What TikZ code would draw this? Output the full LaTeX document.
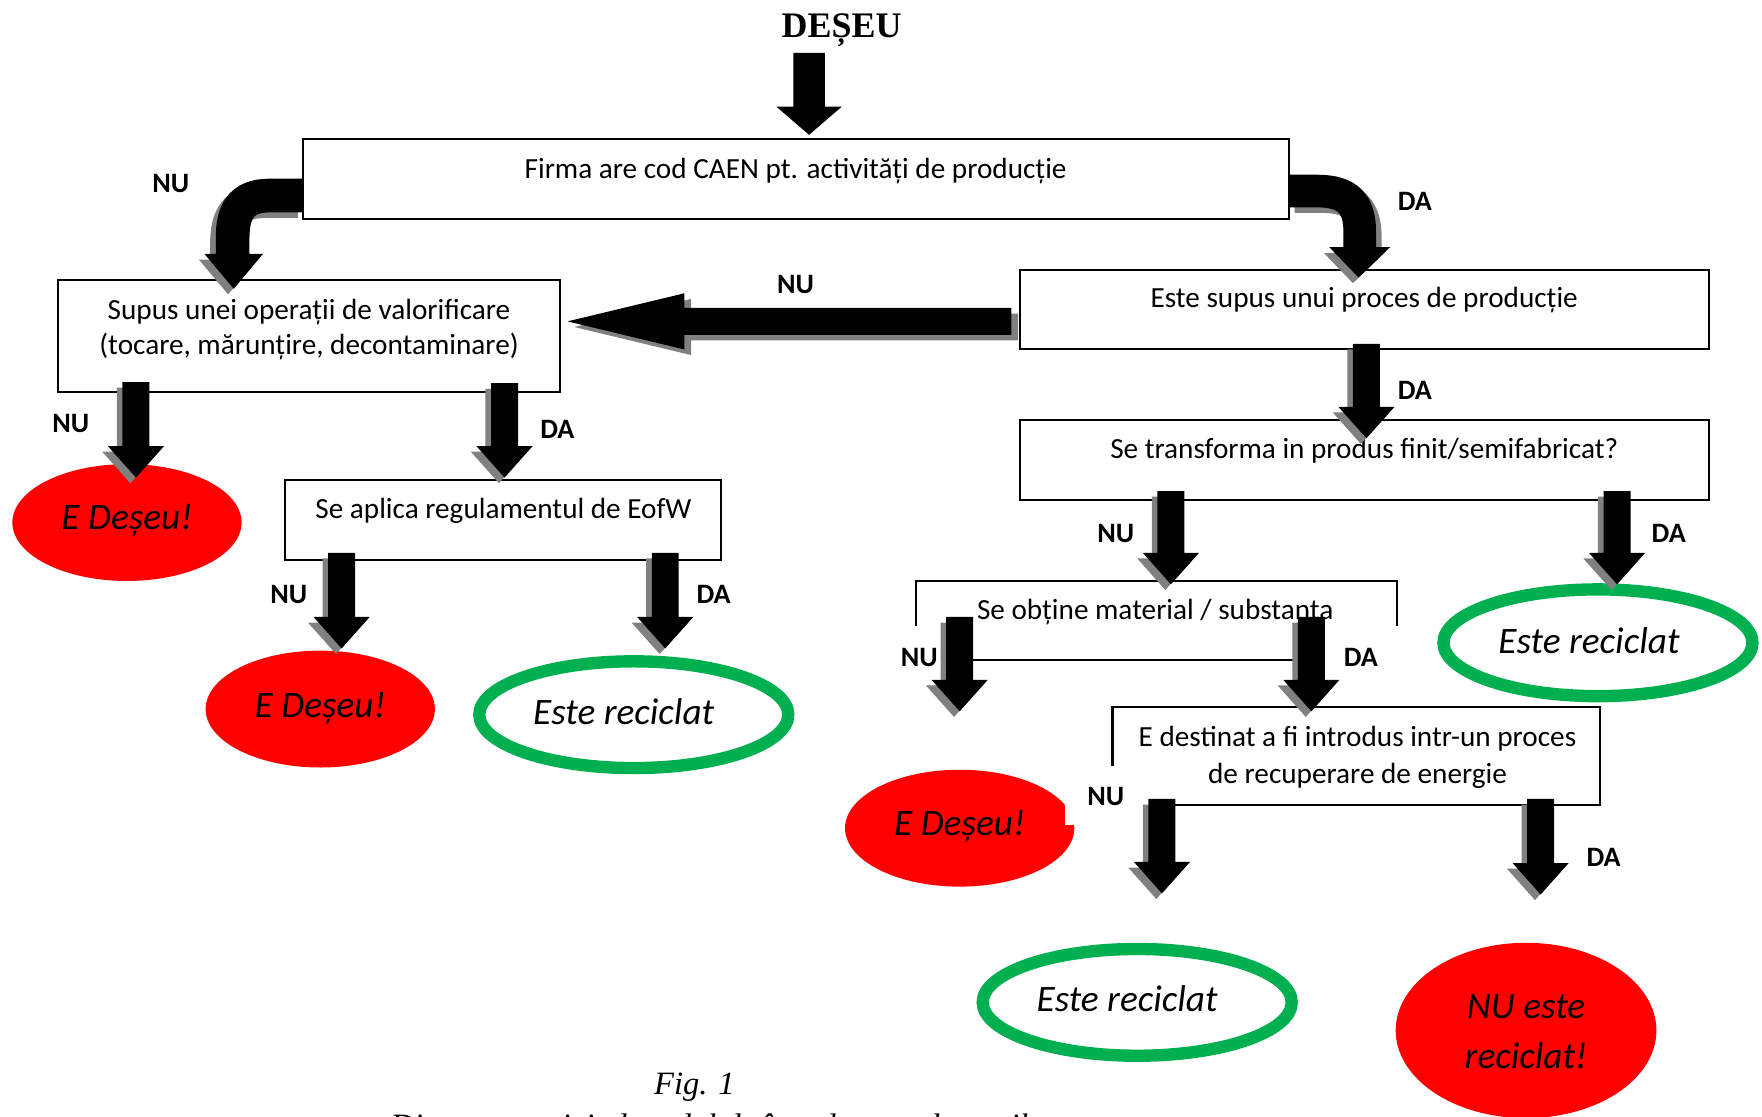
\documentclass[tikz,border=0pt]{standalone}
\usepackage{fontspec}
\setmainfont{Carlito}
\newfontfamily\serifs{Liberation Serif}
\usetikzlibrary{calc,shapes.geometric}
\definecolor{redfill}{HTML}{FF0000}
\definecolor{greenring}{HTML}{00B050}
\definecolor{shadowgray}{HTML}{808080}
% #1 start, #2 tip, #3 dx, #4 dy, #5 colour, #6 half shaft, #7 half head, #8 head length
\newcommand\downblk[8]{%
  \fill[#5] let \p1=(#1), \p2=(#2) in
    ({\x1-#6+(#3)},{\y1+(#4)}) -- ({\x1+#6+(#3)},{\y1+(#4)}) --
    ({\x1+#6+(#3)},{\y2+#8+(#4)}) -- ({\x1+#7+(#3)},{\y2+#8+(#4)}) --
    ({\x1+(#3)},{\y2+(#4)}) -- ({\x1-#7+(#3)},{\y2+#8+(#4)}) --
    ({\x1-#6+(#3)},{\y2+#8+(#4)}) -- cycle;}
\newcommand\darrow[2]{%
  \downblk{#1}{#2}{-2.5pt}{-2.5pt}{shadowgray}{6pt}{12.5pt}{14pt}%
  \downblk{#1}{#2}{0pt}{0pt}{black}{6pt}{12.5pt}{14pt}}
% horizontal arrow pointing left
\newcommand\leftblk[8]{%
  \fill[#5] let \p1=(#1), \p2=(#2) in
    ({\x1+(#3)},{\y1-#6+(#4)}) -- ({\x1+(#3)},{\y1+#6+(#4)}) --
    ({\x2+#8+(#3)},{\y1+#6+(#4)}) -- ({\x2+#8+(#3)},{\y1+#7+(#4)}) --
    ({\x2+(#3)},{\y1+(#4)}) -- ({\x2+#8+(#3)},{\y1-#7+(#4)}) --
    ({\x2+#8+(#3)},{\y1-#6+(#4)}) -- cycle;}
\tikzset{
  boxnode/.style={draw, line width=0.9pt, fill=white, inner sep=0pt},
  boxline/.style={line width=0.9pt},
  txt/.style={font=\fontsize{13pt}{15.5pt}\selectfont, align=center, inner sep=0pt},
  lab/.style={font=\bfseries\fontsize{12.5pt}{14pt}\selectfont, inner sep=0pt},
  etxt/.style={font=\itshape\fontsize{16.6pt}{22pt}\selectfont, align=center, inner sep=0pt},
  redell/.style={ellipse, fill=redfill, inner sep=0pt},
  greenell/.style={ellipse, draw=greenring, line width=5.5pt, fill=white, inner sep=0pt, minimum width=137.5pt, minimum height=47.5pt},
}
\begin{document}
\begin{tikzpicture}[x=0.5pt,y=-0.5pt]
\useasboundingbox (0,0) rectangle (1568,994);
\clip (0,0) rectangle (1568,994);
\fill[white] (0,0) rectangle (1568,994);

% title
\node[font=\serifs\bfseries\fontsize{16pt}{18pt}\selectfont, inner sep=0pt] (deseu) at (749,27) {DEȘEU};

% boxes
\node[boxnode, minimum width=438.5pt, minimum height=35.5pt] (b1) at (708.5,159.5) {};
\node[boxnode, minimum width=223pt, minimum height=50pt] (b2) at (275,299) {};
\node[boxnode, minimum width=306.5pt, minimum height=35.5pt] (b3) at (1214.5,275.5) {};
\node[boxnode, minimum width=306.5pt, minimum height=35.5pt] (b4) at (1214.5,409.5) {};
\node[boxnode, minimum width=194pt, minimum height=35.5pt] (b5) at (448,462.5) {};
\draw[boxline] (815,557) -- (815,517) -- (1243,517) -- (1243,557);
\draw[boxline] (854,587) -- (1167,587);
\draw[boxline] (990,682) -- (990,629) -- (1424,629) -- (1424,716) -- (1034,716);

% box texts
\node[txt] (t1) at (708,152) {Firma are cod CAEN pt. activități de producție};
\node[txt] (t2) at (275,293) {Supus unei operații de valorificare\\(tocare, mărunțire, decontaminare)};
\node[txt] (t3) at (1214,267) {Este supus unui proces de producție};
\node[txt] (t4) at (1214,401) {Se transforma in produs finit/semifabricat?};
\node[txt] (t5) at (448,455) {Se aplica regulamentul de EofW};
\node[txt] (t6) at (1028,545) {Se obține material / substanta};
\node[txt, font=\fontsize{13pt}{16.5pt}\selectfont] (t7) at (1208,674) {E destinat a fi introdus intr-un proces\\de recuperare de energie};

% end ellipses
\node[redell, minimum width=102pt, minimum height=52pt] (e1) at (113,465) {};
\node[redell, minimum width=102pt, minimum height=52pt] (e2) at (285,631) {};
\node[redell, minimum width=102pt, minimum height=52pt] (e3) at (854,737) {};
\fill[white] (948,714) rectangle (962,734);
\node[redell, minimum width=116pt, minimum height=78pt] (e4) at (1358,917) {};
\node[greenell] (g1) at (564,636) {};
\node[greenell] (g2) at (1422,572) {};
\node[greenell] (g3) at (1012,892) {};

\node[etxt] (e1t) at (113,463) {E Deșeu!};
\node[etxt] (e2t) at (285,630) {E Deșeu!};
\node[etxt] (e3t) at (854,735) {E Deșeu!};
\node[etxt] (e4t) at (1358,918) {NU este\\reciclat!};
\node[etxt] (g1t) at (555,633) {Este reciclat};
\node[etxt] (g2t) at (1414,570) {Este reciclat};
\node[etxt] (g3t) at (1003,889) {Este reciclat};

% top arrow
\coordinate (ts) at (720,47);
\coordinate (te) at (720,120);
\downblk{ts}{te}{0pt}{0pt}{black}{7pt}{14.5pt}{12.5pt}

% curved arrow NU (left)
\begin{scope}[shift={(-5,5)}]
  \draw[shadowgray, line width=15pt] (270,174) -- (240,174) .. controls (214,174) and (207,189) .. (207,212) -- (207,228);
  \fill[shadowgray] (182,226) -- (234,226) -- (208,257) -- cycle;
\end{scope}
\draw[black, line width=15pt] (270,174) -- (240,174) .. controls (214,174) and (207,189) .. (207,212) -- (207,228);
\fill[black] (182,226) -- (234,226) -- (208,257) -- cycle;

% curved arrow DA (right)
\begin{scope}[shift={(5,5)}]
  \draw[shadowgray, line width=14.5pt] (1147,170) -- (1172,170) .. controls (1200,170) and (1210,182) .. (1210,206) -- (1210,222);
\end{scope}
\begin{scope}[shift={(-5,5)}]
  \fill[shadowgray] (1183,220) -- (1237,220) -- (1209,247) -- cycle;
\end{scope}
\draw[black, line width=14.5pt] (1147,170) -- (1172,170) .. controls (1200,170) and (1210,182) .. (1210,206) -- (1210,222);
\fill[black] (1183,220) -- (1237,220) -- (1209,247) -- cycle;

% big left arrow NU
\coordinate (ls) at (900,286);
\coordinate (le) at (505,286);
\leftblk{ls}{le}{3pt}{-2.5pt}{shadowgray}{6pt}{12.5pt}{52pt}
\leftblk{ls}{le}{0pt}{0pt}{black}{6pt}{12.5pt}{52pt}

% straight down arrows
\coordinate (a1s) at (121,340);  \coordinate (a1e) at (121,425);
\coordinate (a2s) at (449,341);  \coordinate (a2e) at (449,425);
\coordinate (a3s) at (1216,306); \coordinate (a3e) at (1216,390);
\coordinate (a4s) at (1042,437); \coordinate (a4e) at (1042,520);
\coordinate (a5s) at (1439,437); \coordinate (a5e) at (1439,520);
\coordinate (a6s) at (304,492);  \coordinate (a6e) at (304,577);
\coordinate (a7s) at (592,492);  \coordinate (a7e) at (592,577);
\coordinate (a8s) at (854,549);  \coordinate (a8e) at (854,633);
\coordinate (a9s) at (1167,549); \coordinate (a9e) at (1167,633);
\coordinate (a10s) at (1034,711); \coordinate (a10e) at (1034,795);
\coordinate (a11s) at (1371,711); \coordinate (a11e) at (1371,796);
\darrow{a1s}{a1e}
\darrow{a2s}{a2e}
\darrow{a3s}{a3e}
\darrow{a4s}{a4e}
\darrow{a5s}{a5e}
\darrow{a6s}{a6e}
\darrow{a7s}{a7e}
\darrow{a8s}{a8e}
\darrow{a9s}{a9e}
\darrow{a10s}{a10e}
\darrow{a11s}{a11e}

% labels
\node[lab] (l1) at (152,163) {NU};
\node[lab] (l2) at (1259,179) {DA};
\node[lab] (l3) at (708,253) {NU};
\node[lab] (l4) at (63,377) {NU};
\node[lab] (l5) at (496,382) {DA};
\node[lab] (l6) at (1259,347) {DA};
\node[lab] (l7) at (993,475) {NU};
\node[lab] (l8) at (1485,475) {DA};
\node[lab] (l9) at (257,529) {NU};
\node[lab] (l10) at (635,529) {DA};
\node[lab] (l11) at (818,585) {NU};
\node[lab] (l12) at (1211,585) {DA};
\node[lab] (l13) at (984,709) {NU};
\node[lab] (l14) at (1427,763) {DA};

% caption
\node[font=\serifs\itshape\fontsize{14.5pt}{17pt}\selectfont, anchor=base, inner sep=0pt] (fig) at (618,974) {Fig. 1};
\node[font=\serifs\itshape\fontsize{14.5pt}{17pt}\selectfont, anchor=base west, inner sep=0pt] (cap) at (347,1011) {Diagrama privind modul de încadrare a deșeurilor};
\end{tikzpicture}
\end{document}
